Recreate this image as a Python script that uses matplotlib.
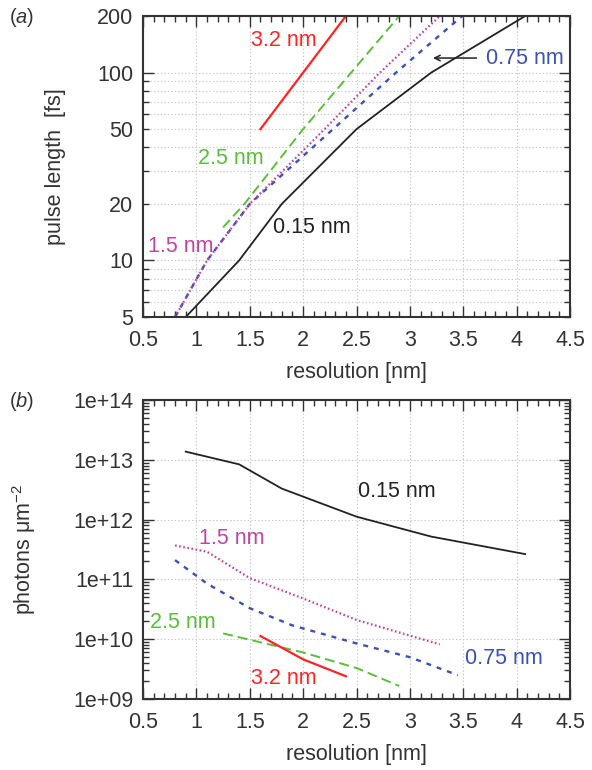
import matplotlib
matplotlib.use("Agg")
import matplotlib.pyplot as plt
from matplotlib.ticker import FixedLocator, NullFormatter, FuncFormatter

plt.rcParams['font.family'] = ['Liberation Sans', 'DejaVu Sans']
plt.rcParams['mathtext.fontset'] = 'custom'
plt.rcParams['mathtext.rm'] = 'Liberation Sans'
plt.rcParams['mathtext.it'] = 'Liberation Sans:italic'
plt.rcParams['lines.scale_dashes'] = False

# ---------------- data ----------------
# panel (a): pulse length [fs] vs resolution [nm]
x_015 = [0.9, 1.4, 1.8, 2.5, 3.2, 4.08]
a_015 = [5, 10, 20, 50, 100, 200]
x_a_075 = [0.8, 1.1, 1.5, 2.28, 2.87, 3.49]
a_075 = [5, 10, 20, 50, 100, 200]
x_a_15 = [0.8, 1.1, 1.5, 2.2, 2.72, 3.28]
a_15 = [5, 10, 20, 50, 100, 200]
x_a_25 = [1.25, 1.45, 2.0, 2.45, 2.9]
a_25 = [15, 20, 50, 100, 200]
x_a_32 = [1.6, 2.4]
a_32 = [50, 200]

# panel (b): photons per um^2 vs resolution [nm]
b_015 = [1.37e13, 8.4e12, 3.3e12, 1.12e12, 5.2e11, 2.65e11]
x_b_075 = [0.8, 1.1, 1.5, 1.9, 2.5, 3.0, 3.45]
b_075 = [2.1e11, 8.5e10, 3.3e10, 1.7e10, 8.5e9, 5.0e9, 2.5e9]
x_b_15 = [0.8, 1.1, 1.5, 2.0, 2.5, 3.28]
b_15 = [3.7e11, 2.9e11, 1.05e11, 4.8e10, 2.1e10, 8.2e9]
x_b_25 = [1.25, 2.0, 2.5, 2.9]
b_25 = [1.25e10, 6.0e9, 3.3e9, 1.65e9]
x_b_32 = [1.6, 2.0, 2.4]
b_32 = [1.13e10, 4.6e9, 2.4e9]

series_labels = ["0.15 nm", "0.75 nm", "1.5 nm", "2.5 nm", "3.2 nm"]
a_yticks_major = [10, 100]
a_yticks_labelled = [5, 10, 20, 50, 100, 200]
b_yticks = [1e9, 1e10, 1e11, 1e12, 1e13, 1e14]
b_yticklabels = ["1e+09", "1e+10", "1e+11", "1e+12", "1e+13", "1e+14"]
xticks = [0.5, 1, 1.5, 2, 2.5, 3, 3.5, 4, 4.5]
xticklabels = ["0.5", "1", "1.5", "2", "2.5", "3", "3.5", "4", "4.5"]

# ---------------- style ----------------
C_BLACK = "#222222"
C_BLUE = "#3b52b4"
C_MAG = "#c044a2"
C_GREEN = "#5cbd3c"
C_RED = "#ff2424"
TXT = "#333333"
FS = 15.5

fig = plt.figure(figsize=(5.92, 7.70), dpi=100)
ax_a = fig.add_axes([0.2416, 0.5883, 0.7213, 0.3909])
ax_b = fig.add_axes([0.2416, 0.0922, 0.7213, 0.3883])

def style_axes(ax):
    ax.set_xlim(0.5, 4.5)
    ax.set_xticks(xticks)
    ax.set_xticklabels(xticklabels)
    ax.xaxis.set_minor_locator(FixedLocator([0.5 + 0.1 * i for i in range(41)]))
    ax.tick_params(which='both', direction='in', top=True, right=True,
                   colors=TXT, labelsize=FS, width=1.0)
    ax.tick_params(which='major', length=8)
    ax.tick_params(which='minor', length=4)
    ax.tick_params(axis='x', which='both', pad=9)
    ax.tick_params(axis='y', which='both', pad=7)
    for s in ax.spines.values():
        s.set_color(TXT)
        s.set_linewidth(1.5)
    ax.set_xlabel("resolution [nm]", fontsize=FS, color=TXT, labelpad=8)
    ax.set_axisbelow(True)

lw = 1.4
ls_blue = (0, (3.6, 4.3))
ls_mag = (0, (1.2, 1.8))
ls_green = (0, (7.2, 3.6))

# ---- panel (a)
ax_a.set_yscale('log')
ax_a.set_ylim(5, 200)
style_axes(ax_a)
minor_a = [5, 6, 7, 8, 9, 20, 30, 40, 50, 60, 70, 80, 90, 200]
ax_a.yaxis.set_major_locator(FixedLocator(a_yticks_major))
ax_a.yaxis.set_minor_locator(FixedLocator(minor_a))
fmt = FuncFormatter(lambda v, p: ("%g" % v) if any(abs(v - t) < 1e-6 for t in a_yticks_labelled) else "")
ax_a.yaxis.set_major_formatter(fmt)
ax_a.yaxis.set_minor_formatter(fmt)
ax_a.grid(True, which='major', axis='x', color='#c8c8c8', linestyle=(0, (1, 1.5)), linewidth=0.8)
ax_a.grid(True, which='both', axis='y', color='#c8c8c8', linestyle=(0, (1, 1.5)), linewidth=0.8)
ax_a.grid(False, which='minor', axis='x')

ax_a.plot(x_015, a_015, color=C_BLACK, lw=1.3)
ax_a.plot(x_a_075, a_075, color=C_BLUE, lw=lw + 0.3, linestyle=ls_blue)
ax_a.plot(x_a_15, a_15, color=C_MAG, lw=lw + 0.2, linestyle=ls_mag)
ax_a.plot(x_a_25, a_25, color=C_GREEN, lw=lw, linestyle=ls_green)
ax_a.plot(x_a_32, a_32, color=C_RED, lw=lw + 0.2)
ax_a.set_ylabel("pulse length  [fs]", fontsize=FS, color=TXT)
ax_a.yaxis.set_label_coords(-0.18, 0.5)

ax_a.text(1.82, 149, series_labels[4], color=C_RED, fontsize=FS, ha='center', va='center')
ax_a.text(1.324, 35.1, series_labels[3], color=C_GREEN, fontsize=FS, ha='center', va='center')
ax_a.text(0.856, 11.9, series_labels[2], color=C_MAG, fontsize=FS, ha='center', va='center')
ax_a.text(2.083, 14.9, series_labels[0], color=C_BLACK, fontsize=FS, ha='center', va='center')
ax_a.text(4.078, 119.5, series_labels[1], color=C_BLUE, fontsize=FS, ha='center', va='center')
ax_a.annotate("", xy=(3.19, 119.5), xytext=(3.65, 119.5),
              arrowprops=dict(arrowstyle='->', color=C_BLACK, lw=1.1))

# ---- panel (b)
ax_b.set_yscale('log')
ax_b.set_ylim(1e9, 1e14)
style_axes(ax_b)
ax_b.yaxis.set_major_locator(FixedLocator(b_yticks))
ax_b.set_yticklabels(b_yticklabels)
ax_b.yaxis.set_minor_locator(FixedLocator([m * 10 ** e for e in range(9, 14) for m in range(2, 10)]))
ax_b.yaxis.set_minor_formatter(NullFormatter())
ax_b.grid(True, which='major', color='#c8c8c8', linestyle=(0, (1, 1.5)), linewidth=0.8)

ax_b.plot(x_015, b_015, color=C_BLACK, lw=1.3)
ax_b.plot(x_b_075, b_075, color=C_BLUE, lw=lw + 0.3, linestyle=ls_blue)
ax_b.plot(x_b_15, b_15, color=C_MAG, lw=lw + 0.2, linestyle=ls_mag)
ax_b.plot(x_b_25, b_25, color=C_GREEN, lw=lw, linestyle=ls_green)
ax_b.plot(x_b_32, b_32, color=C_RED, lw=lw + 0.2)
ax_b.set_ylabel(r"photons $\mathrm{\mu m}^{-2}$", fontsize=FS, color=TXT)
ax_b.yaxis.set_label_coords(-0.245, 0.5)

ax_b.text(2.879, 2.9e12, series_labels[0], color=C_BLACK, fontsize=FS, ha='center', va='center')
ax_b.text(1.334, 4.92e11, series_labels[2], color=C_MAG, fontsize=FS, ha='center', va='center')
ax_b.text(0.875, 1.87e10, series_labels[3], color=C_GREEN, fontsize=FS, ha='center', va='center')
ax_b.text(1.821, 2.24e9, series_labels[4], color=C_RED, fontsize=FS, ha='center', va='center')
ax_b.text(3.882, 4.67e9, series_labels[1], color=C_BLUE, fontsize=FS, ha='center', va='center')

fig.text(0.037, 0.977, r"($\mathit{a}$)", fontsize=FS - 1, color=TXT, ha='center', va='center')
fig.text(0.037, 0.479, r"($\mathit{b}$)", fontsize=FS - 1, color=TXT, ha='center', va='center')

fig.savefig("out.png", dpi=100)
